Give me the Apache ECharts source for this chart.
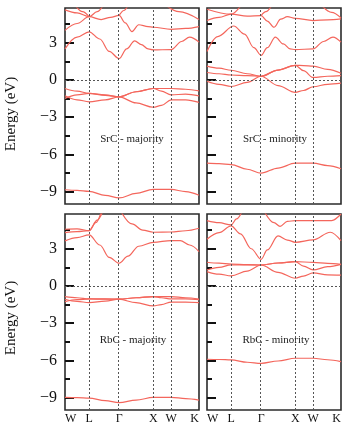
<!DOCTYPE html>
<html>
<head>
<meta charset="utf-8">
<script src="https://cdn.jsdelivr.net/npm/echarts@6/dist/echarts.min.js"></script>
<style>
  html, body { margin: 0; padding: 0; background: #fff; }
  #main { width: 349px; height: 428px; }
</style>
</head>
<body>
<div id="main"></div>
<script>
// high symmetry points along the path (fraction of path length)
const kPoints = [0, 0.18, 0.404, 0.659, 0.792, 1];
const kLabels = ['W', 'L', 'Γ', 'X', 'W', 'K'];
const majorTicks = [-9, -6, -3, 0, 3];
const minorTicks = [-7.5, -4.5, -1.5, 1.5, 4.5];

// each band is a list of [k, E(eV)]
const srcMajority = [
  [[0,-8.85],[0.09,-8.9],[0.18,-8.98],[0.3,-9.3],[0.404,-9.51],[0.53,-9.15],[0.659,-8.82],[0.792,-8.82],[0.9,-9.0],[1,-9.3]],
  [[0,-0.69],[0.09,-0.9],[0.18,-1.09],[0.3,-1.25],[0.404,-1.36],[0.53,-0.95],[0.659,-0.69],[0.792,-0.69],[0.9,-0.75],[1,-0.88]],
  [[0,-1.28],[0.09,-1.6],[0.18,-1.76],[0.3,-1.6],[0.404,-1.36],[0.53,-1.85],[0.659,-2.2],[0.72,-2.05],[0.792,-1.6],[0.9,-1.6],[1,-1.81]],
  [[0,-1.49],[0.09,-1.2],[0.18,-1.09],[0.3,-1.2],[0.404,-1.36],[0.53,-0.95],[0.659,-0.69],[0.72,-0.9],[0.792,-1.2],[0.9,-1.15],[1,-1.28]],
  [[0,2.5],[0.09,3.45],[0.18,3.88],[0.26,3.3],[0.33,2.3],[0.404,1.72],[0.46,2.5],[0.52,3.15],[0.57,2.85],[0.62,2.5],[0.659,2.42],[0.792,2.45],[0.87,3.1],[0.93,3.45],[1,3.05]],
  [[0,4.0],[0.09,4.55],[0.18,5.1],[0.27,4.87],[0.34,5.05],[0.404,5.2],[0.45,4.6],[0.5,3.9],[0.55,4.45],[0.62,4.3],[0.659,4.25],[0.792,4.08],[0.9,4.15],[1,4.3]],
  [[0,5.65],[0.09,5.4],[0.18,5.1],[0.24,5.5],[0.29,6.1]],
  [[0.08,5.95],[0.13,5.5],[0.18,5.1]],
  [[0.404,5.2],[0.44,5.6],[0.47,6.0]],
  [[0.76,5.95],[0.85,5.5],[1,4.87]]
];

const srcMinority = [
  [[0,-6.71],[0.09,-6.75],[0.18,-6.82],[0.3,-7.2],[0.404,-7.51],[0.53,-7.1],[0.659,-6.71],[0.792,-6.71],[0.9,-6.9],[1,-7.16]],
  [[0,1.12],[0.09,0.95],[0.18,0.78],[0.3,0.5],[0.404,0.3],[0.53,0.8],[0.659,1.18],[0.72,1.16],[0.792,1.12],[0.9,0.85],[1,0.54]],
  [[0,0.6],[0.09,0.5],[0.18,0.4],[0.3,0.35],[0.404,0.3],[0.53,0.8],[0.659,1.18],[0.72,0.75],[0.792,0.2],[0.9,0.3],[1,0.35]],
  [[0,-0.1],[0.09,-0.35],[0.18,-0.53],[0.3,-0.2],[0.404,0.3],[0.53,-0.45],[0.659,-1.0],[0.72,-0.85],[0.792,-0.55],[0.9,-0.35],[1,-0.26]],
  [[0,2.3],[0.08,3.5],[0.2,4.35],[0.28,3.7],[0.35,2.6],[0.404,1.98],[0.45,2.6],[0.51,3.45],[0.57,2.9],[0.62,2.5],[0.659,2.45],[0.792,2.5],[0.87,3.1],[0.94,3.45],[1,3.05]],
  [[0,4.79],[0.09,5.05],[0.18,5.3],[0.3,5.15],[0.404,5.19],[0.45,4.75],[0.5,4.25],[0.55,4.9],[0.6,5.1],[0.659,4.97],[0.792,4.79],[0.9,4.85],[1,4.92]],
  [[0,5.7],[0.18,5.3],[0.25,5.95]],
  [[0.404,5.19],[0.44,5.5],[0.48,5.95]],
  [[0.86,5.95],[0.93,5.45],[1,5.0]]
];

const rbcMajority = [
  [[0,-8.98],[0.09,-9.0],[0.18,-9.05],[0.3,-9.25],[0.404,-9.4],[0.53,-9.2],[0.659,-8.98],[0.792,-8.98],[0.9,-9.08],[1,-9.2]],
  [[0,-0.86],[0.09,-0.95],[0.18,-1.05],[0.3,-1.06],[0.404,-1.07],[0.53,-0.95],[0.659,-0.86],[0.792,-0.86],[0.9,-0.95],[1,-1.05]],
  [[0,-1.26],[0.09,-1.1],[0.18,-1.05],[0.3,-1.05],[0.404,-1.07],[0.53,-0.95],[0.659,-0.86],[0.72,-0.95],[0.792,-1.05],[0.9,-1.05],[1,-1.1]],
  [[0,-1.07],[0.09,-1.25],[0.18,-1.34],[0.3,-1.22],[0.404,-1.07],[0.53,-1.35],[0.659,-1.61],[0.72,-1.5],[0.792,-1.3],[0.9,-1.3],[1,-1.34]],
  [[0,3.63],[0.09,3.9],[0.18,4.11],[0.26,3.3],[0.33,2.3],[0.404,1.83],[0.47,2.4],[0.55,3.2],[0.659,3.52],[0.792,3.66],[0.86,3.66],[0.93,3.3],[1,2.77]],
  [[0,4.57],[0.09,4.6],[0.18,4.46],[0.23,5.1],[0.27,5.95]],
  [[0,4.3],[0.09,4.38],[0.18,4.46],[0.24,5.3],[0.28,5.95]],
  [[0.42,5.95],[0.5,5.0],[0.58,4.5],[0.659,4.33],[0.792,4.35],[0.9,4.45],[1,4.65]]
];

const rbcMinority = [
  [[0,-5.91],[0.09,-5.93],[0.18,-5.96],[0.3,-6.15],[0.404,-6.24],[0.53,-6.05],[0.659,-5.83],[0.792,-5.83],[0.9,-5.95],[1,-6.1]],
  [[0,1.91],[0.09,1.84],[0.18,1.77],[0.3,1.72],[0.404,1.69],[0.53,1.85],[0.659,1.96],[0.792,1.9],[0.9,1.82],[1,1.74]],
  [[0,1.29],[0.09,1.5],[0.18,1.7],[0.3,1.7],[0.404,1.69],[0.53,1.85],[0.659,1.96],[0.72,1.6],[0.792,1.29],[0.9,1.55],[1,1.74]],
  [[0,1.16],[0.09,0.95],[0.18,0.81],[0.3,1.2],[0.404,1.69],[0.53,1.1],[0.659,0.62],[0.72,0.8],[0.792,1.05],[0.9,0.9],[1,0.87]],
  [[0,3.76],[0.09,4.3],[0.18,4.85],[0.25,4.2],[0.33,3.0],[0.404,2.15],[0.45,2.9],[0.53,4.03],[0.6,3.7],[0.659,3.52],[0.792,3.71],[0.92,4.33],[1,3.65]],
  [[0,5.27],[0.09,5.1],[0.18,4.92],[0.22,5.4],[0.26,5.95]],
  [[0.43,5.95],[0.5,5.1],[0.545,4.8],[0.6,5.2],[0.659,5.27],[0.792,5.27],[0.93,5.27],[1,5.8]]
];

const panels = [
  { name: 'SrC - majority', bands: srcMajority, left: 65, top: 8, labelY: true, labelX: false, tx: 132, ty: 139 },
  { name: 'SrC - minority', bands: srcMinority, left: 207, top: 8, labelY: false, labelX: false, tx: 275, ty: 139 },
  { name: 'RbC - majority', bands: rbcMajority, left: 65, top: 214, labelY: true, labelX: true, tx: 133, ty: 340 },
  { name: 'RbC - minority', bands: rbcMinority, left: 207, top: 214, labelY: false, labelX: true, tx: 276, ty: 340 }
];

const serif = '"Liberation Serif", "DejaVu Serif", serif';
const bandColor = '#f4665c';

var grids = [], xAxes = [], yAxes = [], series = [], graphics = [];

panels.forEach((p, g) => {
  grids.push({
    left: p.left, top: p.top, width: 134, height: 196,
    show: true, borderColor: '#2b2b2b', borderWidth: 1.6, backgroundColor: 'transparent'
  });
  xAxes.push({
    type: 'value', gridIndex: g, min: 0, max: 1,
    axisLine: { show: false }, axisTick: { show: false }, splitLine: { show: false },
    axisLabel: {
      show: p.labelX, customValues: kPoints, margin: 3,
      alignMinLabel: 'left', alignMaxLabel: 'right',
      fontFamily: serif, fontSize: 12, color: '#111',
      formatter: v => {
        let i = kPoints.findIndex(k => Math.abs(k - v) < 1e-6);
        return i < 0 ? '' : kLabels[i];
      }
    }
  });
  // major ticks + labels
  yAxes.push({
    type: 'value', gridIndex: g, min: -10, max: 5.8, position: 'left',
    axisLine: { show: false }, splitLine: { show: false },
    axisTick: { show: true, inside: true, length: 9, customValues: majorTicks, lineStyle: { color: '#111', width: 2 } },
    axisLabel: {
      show: p.labelY, customValues: majorTicks, margin: 8,
      fontFamily: serif, fontSize: 16, color: '#111',
      formatter: v => v < 0 ? '\u2212' + (-v) : '' + v
    }
  });
  // minor ticks
  yAxes.push({
    type: 'value', gridIndex: g, min: -10, max: 5.8, position: 'left',
    axisLine: { show: false }, splitLine: { show: false },
    axisTick: { show: true, inside: true, length: 5, customValues: minorTicks, lineStyle: { color: '#111', width: 2 } },
    axisLabel: { show: false }
  });

  // dotted guide lines at symmetry points and Fermi level
  series.push({
    type: 'line', xAxisIndex: g, yAxisIndex: 2 * g, data: [], z: 1, silent: true,
    markLine: {
      silent: true, symbol: ['none', 'none'], label: { show: false }, animation: false,
      lineStyle: { color: '#555', type: [2, 2], width: 1 },
      data: kPoints.slice(1, 5).map(k => ({ xAxis: k })).concat([{ yAxis: 0 }])
    }
  });

  p.bands.forEach(b => {
    series.push({
      type: 'line', xAxisIndex: g, yAxisIndex: 2 * g, data: b, z: 3,
      smooth: 0.35, smoothMonotone: 'x', showSymbol: false, silent: true,
      lineStyle: { color: bandColor, width: 1.2 }
    });
  });

  graphics.push({
    type: 'text', x: p.tx, y: p.ty,
    style: { text: p.name, fill: '#222', font: '11px ' + serif, textAlign: 'center', textVerticalAlign: 'middle' }
  });
});

graphics.push({
  type: 'text', x: 11, y: 114, rotation: Math.PI / 2,
  style: { text: 'Energy (eV)', fill: '#111', font: '15px ' + serif, textAlign: 'center', textVerticalAlign: 'middle' }
});
graphics.push({
  type: 'text', x: 11, y: 318, rotation: Math.PI / 2,
  style: { text: 'Energy (eV)', fill: '#111', font: '15px ' + serif, textAlign: 'center', textVerticalAlign: 'middle' }
});

var myChart = echarts.init(document.getElementById('main'), null, { renderer: 'canvas' });
myChart.setOption({
  animation: false,
  backgroundColor: '#fff',
  grid: grids,
  xAxis: xAxes,
  yAxis: yAxes,
  series: series,
  graphic: graphics
});
</script>
</body>
</html>
